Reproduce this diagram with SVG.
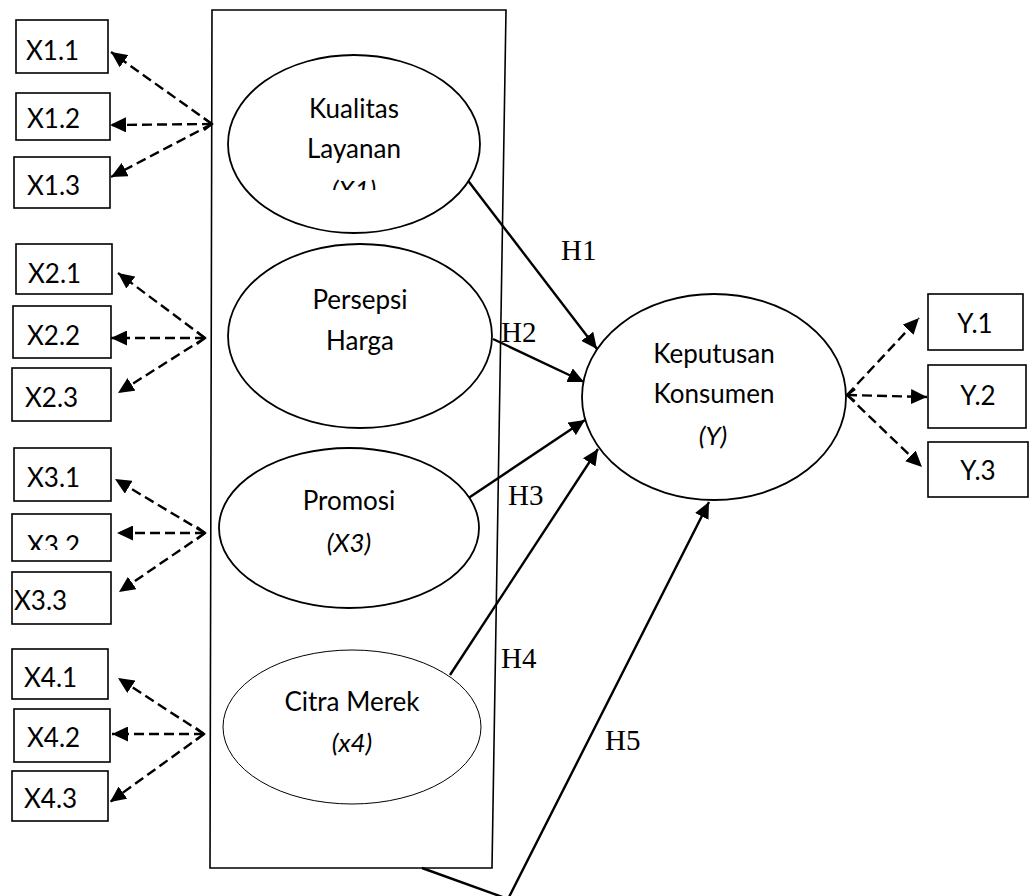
<svg xmlns="http://www.w3.org/2000/svg" width="1036" height="896" viewBox="0 0 1036 896">
<style>
.box{fill:#fff;stroke:#000;stroke-width:1.6}
.ell{fill:#fff;stroke:#000;stroke-width:1.8}
.thin{stroke-width:1}
.t{font-family:Lato,"Liberation Sans",sans-serif;font-size:26px;fill:#000}
.c{text-anchor:middle}
.i{font-style:italic}
.h{font-family:"Liberation Serif","Times New Roman",serif;font-size:29px;fill:#000}
.sol{stroke:#000;stroke-width:2.4;fill:none;marker-end:url(#ah)}
.dash{stroke:#000;stroke-width:2.4;fill:none;stroke-dasharray:10 5;marker-end:url(#ah)}
.mid{marker-start:url(#chev)}
</style>
<defs>
<marker id="ah" markerUnits="userSpaceOnUse" markerWidth="17" markerHeight="15" refX="16" refY="7.5" orient="auto">
<path d="M0,0 L16,7.5 L0,15 z" fill="#000"/>
</marker>
<marker id="chev" markerUnits="userSpaceOnUse" markerWidth="12" markerHeight="14" refX="9" refY="7" orient="auto-start-reverse">
<path d="M1,1 L9,7 L1,13" fill="none" stroke="#000" stroke-width="2.2"/>
</marker>
<clipPath id="clipX1"><rect x="300" y="170" width="120" height="20"/></clipPath>
<clipPath id="clipX32"><rect x="20" y="520" width="90" height="30"/></clipPath>
</defs>

<g id="frame">
<polygon points="212,10 506,10 492,868 210,868" fill="none" stroke="#000" stroke-width="1.6"/>
</g>

<g id="connectors">
<path class="sol" d="M466,178 L597,349"/>
<path class="sol" d="M493,339 L584,382"/>
<path class="sol" d="M467,499 L585,420"/>
<path class="sol" d="M450,675 L598,449"/>
<path class="sol" d="M422,868 L508,899 L709,502"/>

<path class="dash" d="M212,124 L111,52"/>
<path class="dash mid" d="M212,124 L110,125"/>
<path class="dash" d="M212,124 L111,177"/>

<path class="dash" d="M205,338 L118,273"/>
<path class="dash mid" d="M205,338 L111,338"/>
<path class="dash" d="M205,338 L118,393"/>

<path class="dash" d="M205,533 L115,479"/>
<path class="dash mid" d="M205,533 L117,533"/>
<path class="dash" d="M205,533 L119,592"/>

<path class="dash" d="M204,734 L118,678"/>
<path class="dash mid" d="M204,734 L112,734"/>
<path class="dash" d="M204,734 L110,802"/>

<path class="dash" d="M847,395 L919,318"/>
<path class="dash mid" d="M847,395 L927,397"/>
<path class="dash" d="M847,395 L922,467"/>
</g>

<g id="labels">
<text class="h" x="561" y="260">H1</text>
<text class="h" x="501" y="342">H2</text>
<text class="h" x="508" y="505">H3</text>
<text class="h" x="501" y="668">H4</text>
<text class="h" x="605" y="750">H5</text>
</g>

<g id="kualitas">
<ellipse class="ell" cx="354" cy="144" rx="126" ry="89"/>
<text class="t c" x="354" y="118">Kualitas</text>
<text class="t c" x="354" y="158">Layanan</text>
<text class="t c i" x="354" y="199" clip-path="url(#clipX1)">(X1)</text>
</g>
<g id="persepsi">
<ellipse class="ell" cx="360" cy="336" rx="132" ry="92"/>
<text class="t c" x="360" y="309">Persepsi</text>
<text class="t c" x="360" y="350">Harga</text>
</g>
<g id="promosi">
<ellipse class="ell" cx="349" cy="528" rx="130" ry="80"/>
<text class="t c" x="349" y="510">Promosi</text>
<text class="t c i" x="349" y="552">(X3)</text>
</g>
<g id="citra">
<ellipse class="ell thin" cx="352" cy="727" rx="129" ry="77"/>
<text class="t c" x="352" y="711">Citra Merek</text>
<text class="t c i" x="352" y="752">(x4)</text>
</g>
<g id="keputusan">
<ellipse class="ell" cx="714" cy="397" rx="132" ry="103"/>
<text class="t c" x="714" y="363">Keputusan</text>
<text class="t c" x="714" y="403">Konsumen</text>
<text class="t c i" x="713" y="445">(Y)</text>
</g>

<g id="x11"><rect class="box" x="16" y="20" width="92" height="53"/><text class="t" x="26" y="60">X1.1</text></g>
<g id="x12"><rect class="box" x="16" y="93" width="94" height="47"/><text class="t" x="27" y="128">X1.2</text></g>
<g id="x13"><rect class="box" x="14" y="157" width="96" height="51"/><text class="t" x="27" y="195">X1.3</text></g>
<g id="x21"><rect class="box" x="16" y="244" width="96" height="50"/><text class="t" x="28" y="283">X2.1</text></g>
<g id="x22"><rect class="box" x="13" y="306" width="98" height="52"/><text class="t" x="27" y="345">X2.2</text></g>
<g id="x23"><rect class="box" x="12" y="368" width="99" height="53"/><text class="t" x="25" y="407">X2.3</text></g>
<g id="x31"><rect class="box" x="14" y="448" width="97" height="53"/><text class="t" x="27" y="487">X3.1</text></g>
<g id="x32"><rect class="box" x="12" y="514" width="99" height="47"/><text class="t" x="27" y="555" clip-path="url(#clipX32)">X3.2</text></g>
<g id="x33"><rect class="box" x="12" y="572" width="99" height="52"/><text class="t" x="14" y="610">X3.3</text></g>
<g id="x41"><rect class="box" x="12" y="649" width="96" height="50"/><text class="t" x="24" y="687">X4.1</text></g>
<g id="x42"><rect class="box" x="14" y="709" width="96" height="53"/><text class="t" x="27" y="747">X4.2</text></g>
<g id="x43"><rect class="box" x="12" y="771" width="96" height="50"/><text class="t" x="24" y="808">X4.3</text></g>

<g id="y1"><rect class="box" x="928" y="294" width="95" height="56"/><text class="t c" x="975" y="333">Y.1</text></g>
<g id="y2"><rect class="box" x="928" y="365" width="98" height="63"/><text class="t c" x="978" y="405">Y.2</text></g>
<g id="y3"><rect class="box" x="928" y="442" width="100" height="55"/><text class="t c" x="978" y="480">Y.3</text></g>
</svg>
